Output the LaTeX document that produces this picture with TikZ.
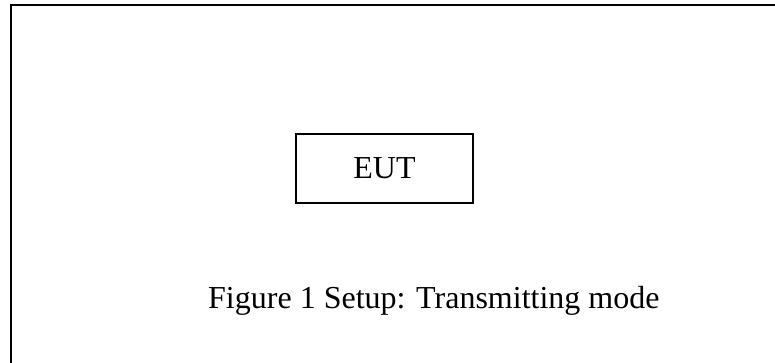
\documentclass[tikz,border=0pt]{standalone}
\usepackage{fontspec}
\setmainfont{Liberation Serif}
\usetikzlibrary{positioning}

\begin{document}
\begin{tikzpicture}
            [x=1pt, y=1pt,
            frame/.style={
                draw, line width=2pt, line cap=rect
            },
            block/.style={
                rectangle,
                draw,
                line width=1.5pt,
                minimum width=177pt,
                minimum height=69pt,
                font=\fontsize{32}{38}\selectfont
            },
            caption/.style={
                font=\fontsize{32}{38}\selectfont,
                inner sep=0pt
            }
            ]
            \useasboundingbox (0,0) rectangle (775,362);

            % Outer frame, only top and left edges are visible
            \coordinate (corner) at (11,357);
            \draw [frame] (11,0) -- (corner) -- (775,357);

            % Device under test
            \node[block] (eut) at (384.5,193.5) {EUT};

            % Caption below
            \node[caption, anchor=base west] (fig) at (208,54) {Figure 1 Setup: Transmitting mode};
\end{tikzpicture}
\end{document}
